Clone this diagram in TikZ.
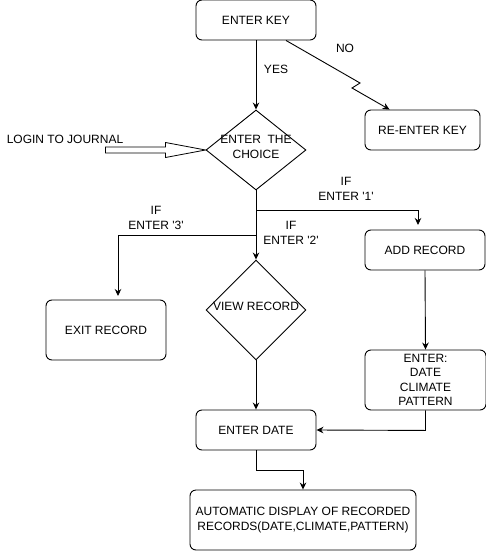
\documentclass[tikz,border=0pt]{standalone}
\usepackage{fontspec}
\setmainfont{Liberation Sans}
\usetikzlibrary{shapes.geometric,arrows.meta}
\begin{document}
\begin{tikzpicture}[x=1pt,y=-1pt,
  font=\fontsize{12}{14.5}\selectfont,
  line width=0.9pt,
  box/.style={draw, rounded corners=6pt, minimum width=120pt, minimum height=40pt, align=center, inner sep=0pt},
  dia/.style={draw, diamond, inner sep=0pt, minimum width=100pt},
  arr/.style={-{Stealth[length=7pt,width=6.5pt]}},
  lbl/.style={align=center, inner sep=0pt}
]
\useasboundingbox (0,0) rectangle (486,551);

% nodes
\node[box] (key) at (256,20) {ENTER KEY};
\node[box, minimum width=115pt] (reenter) at (422.5,130) {RE-ENTER KEY};
\node[dia, minimum height=80pt, label={[lbl, yshift=3pt]center:{ENTER\ \ THE\\CHOICE}}] (choice) at (256,150) {};
\node[box] (add) at (425,250) {ADD RECORD};
\node[box, minimum height=60pt] (exit) at (106,330) {EXIT RECORD};
\node[dia, minimum height=100pt, label={[lbl, yshift=4pt]center:{VIEW RECORD}}] (view) at (256,310) {};
\node[box, minimum height=60pt, minimum width=121pt] (enter) at (425.5,380) {ENTER:\\DATE\\CLIMATE\\PATTERN};
\node[box] (date) at (256,430) {ENTER DATE};
\node[box, minimum width=226pt, minimum height=60pt] (auto) at (303,520) {AUTOMATIC DISPLAY OF RECORDED\\RECORDS(DATE,CLIMATE,PATTERN)};

\node[lbl] (login) at (65,139) {LOGIN TO JOURNAL};
\node[lbl] (yes) at (276,69) {YES};
\node[lbl] (no) at (345,48) {NO};
\node[lbl] (if1) at (346,189) {IF\\ENTER \textquotesingle1\textquotesingle};
\node[lbl] (if2) at (291,233) {IF\\ENTER \textquotesingle2\textquotesingle};
\node[lbl] (if3) at (156,218) {IF\\ENTER \textquotesingle3\textquotesingle};

% coordinates
\coordinate (b1) at (256,210);
\coordinate (b3) at (256,235);
\coordinate (addtop) at (418,225);
\coordinate (exittop) at (118,296);

% connectors
\draw[arr] (key.south) -- (choice.north);
\draw[arr] ([xshift=30pt]key.south) -- (360,83) -- (352,88) -- ([xshift=25pt]reenter.north west);

\draw[line width=0.8pt] (105.5,147) -- (165.5,147) -- (165.5,142.5) -- (choice.west) -- (165.5,157.5) -- (165.5,153) -- (105.5,153) -- cycle;

\draw[arr] (choice.south) -- (view.north);
\draw[arr] (b1) -- (addtop |- b1) -- (addtop);
\draw[arr] (b3) -- (exittop |- b3) -- (exittop);

\draw[arr] (view.south) -- (date.north);
\draw[arr] (add.south) -- (enter.north);
\draw[arr] (enter.south) -- ++(0,20) -- (date.east);
\draw[arr] (date.south) -- ++(0,20) -| (auto.north);
\end{tikzpicture}
\end{document}
